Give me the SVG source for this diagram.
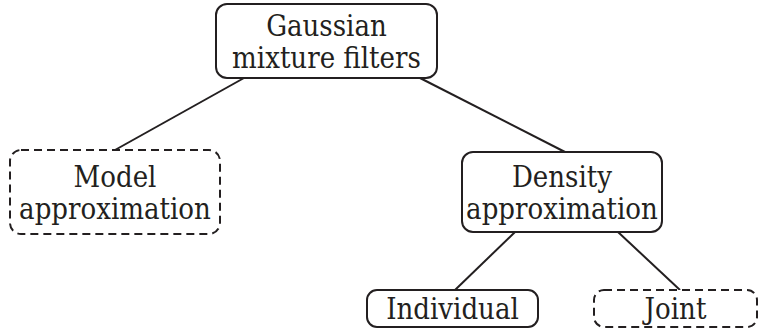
<svg xmlns="http://www.w3.org/2000/svg" width="764" height="330" viewBox="0 0 764 330">
  <style>
    .box { fill: #ffffff; stroke: #231f20; stroke-width: 2; }
    .dashed { stroke-dasharray: 8 5; }
    .label { font-family: "DejaVu Serif", "Liberation Serif", serif; font-stretch: condensed; font-size: 29px; fill: #231f20; text-anchor: middle; }
    .edge { stroke: #231f20; stroke-width: 2; fill: none; }
  </style>
  <rect width="764" height="330" fill="#ffffff"/>

  <g id="connectors">
    <line class="edge" x1="244" y1="78" x2="115" y2="150"/>
    <line class="edge" x1="420" y1="78" x2="565" y2="152"/>
    <line class="edge" x1="515" y1="232" x2="455" y2="290"/>
    <line class="edge" x1="618" y1="232" x2="680" y2="290"/>
  </g>

  <g id="gaussian-mixture-filters">
    <rect class="box" x="216" y="4" width="221" height="74" rx="11"/>
    <text class="label" x="326.5" y="36">Gaussian</text>
    <text class="label" x="326.5" y="68">mixture filters</text>
  </g>

  <g id="model-approximation">
    <rect class="box dashed" x="10" y="150" width="210" height="84" rx="11"/>
    <text class="label" x="115" y="187">Model</text>
    <text class="label" x="115" y="219">approximation</text>
  </g>

  <g id="density-approximation">
    <rect class="box" x="462" y="152" width="200" height="80" rx="11"/>
    <text class="label" x="562" y="187">Density</text>
    <text class="label" x="562" y="219">approximation</text>
  </g>

  <g id="individual">
    <rect class="box" x="367" y="290" width="171" height="37" rx="10"/>
    <text class="label" x="452.5" y="319">Individual</text>
  </g>

  <g id="joint">
    <rect class="box dashed" x="594" y="290" width="163" height="37" rx="10"/>
    <text class="label" x="675.5" y="319">Joint</text>
  </g>
</svg>
